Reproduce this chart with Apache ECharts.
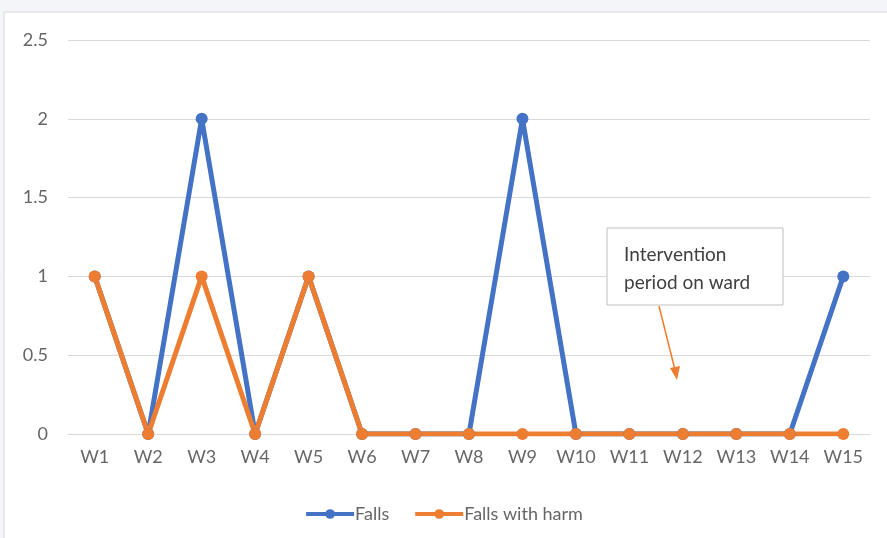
<!DOCTYPE html>
<html><head><meta charset="utf-8">
<script src="https://cdn.jsdelivr.net/npm/echarts@6/dist/echarts.min.js"></script>
<style>html,body{margin:0;padding:0;background:#f3f5f8;}#c{width:887px;height:538px;}</style>
</head><body><div id="c"></div>
<script>
const categories = ['W1','W2','W3','W4','W5','W6','W7','W8','W9','W10','W11','W12','W13','W14','W15'];
const falls = [1,0,2,0,1,0,0,0,2,0,0,0,0,0,1];
const fallsWithHarm = [1,0,1,0,1,0,0,0,0,0,0,0,0,0,0];
const yTicks = [0,0.5,1,1.5,2,2.5];
const annotation = ['Intervention', 'period on ward'];

const chart = echarts.init(document.getElementById('c'));
const font = 'Lato, "Open Sans", sans-serif';
chart.setOption({
  animation:false,
  backgroundColor:'transparent',
  textStyle:{fontFamily:font},
  grid:{left:68,right:17,top:40,bottom:104},
  xAxis:{type:'category',data:categories,boundaryGap:true,
    axisLine:{show:true,lineStyle:{color:'#d9d9d9'}},axisTick:{show:false},
    axisLabel:{color:'#666666',fontSize:18,margin:14,fontFamily:font}},
  yAxis:{type:'value',min:yTicks[0],max:yTicks[yTicks.length-1],interval:0.5,
    axisLine:{show:false},axisTick:{show:false},
    axisLabel:{color:'#666666',fontSize:18,margin:20,fontFamily:font},
    splitLine:{lineStyle:{color:'#d9d9d9'}}},
  legend:{bottom:10,left:'center',itemWidth:48,itemHeight:12,itemGap:24,
    lineStyle:{width:4},
    textStyle:{color:'#666666',fontSize:18,fontFamily:font,padding:[0,0,0,-4]},
    data:['Falls','Falls with harm']},
  series:[
    {name:'Falls',type:'line',data:falls,color:'#4472C4',symbol:'circle',symbolSize:12,
      lineStyle:{width:5},itemStyle:{color:'#4472C4'}},
    {name:'Falls with harm',type:'line',data:fallsWithHarm,color:'#ED7D31',symbol:'circle',symbolSize:12,
      lineStyle:{width:5},itemStyle:{color:'#ED7D31'}}
  ],
  graphic:[
    {type:'rect',z:-10,shape:{x:4,y:12,width:900,height:540},style:{fill:'#ffffff',stroke:'#d9d9d9',lineWidth:1}},
    {type:'rect',z:10,shape:{x:607,y:228,width:176,height:77},style:{fill:'#ffffff',stroke:'#bfbfbf',lineWidth:1}},
    {type:'text',z:11,left:624,top:241,style:{text:annotation.join('\n'),fill:'#404040',fontSize:19,lineHeight:28,fontFamily:font}},
    {type:'line',z:11,shape:{x1:659,y1:306,x2:675,y2:370},style:{stroke:'#ED7D31',lineWidth:1.5}},
    {type:'polygon',z:11,shape:{points:[[677,380],[670,368],[680,366]]},style:{fill:'#ED7D31'}}
  ]
});
</script></body></html>
